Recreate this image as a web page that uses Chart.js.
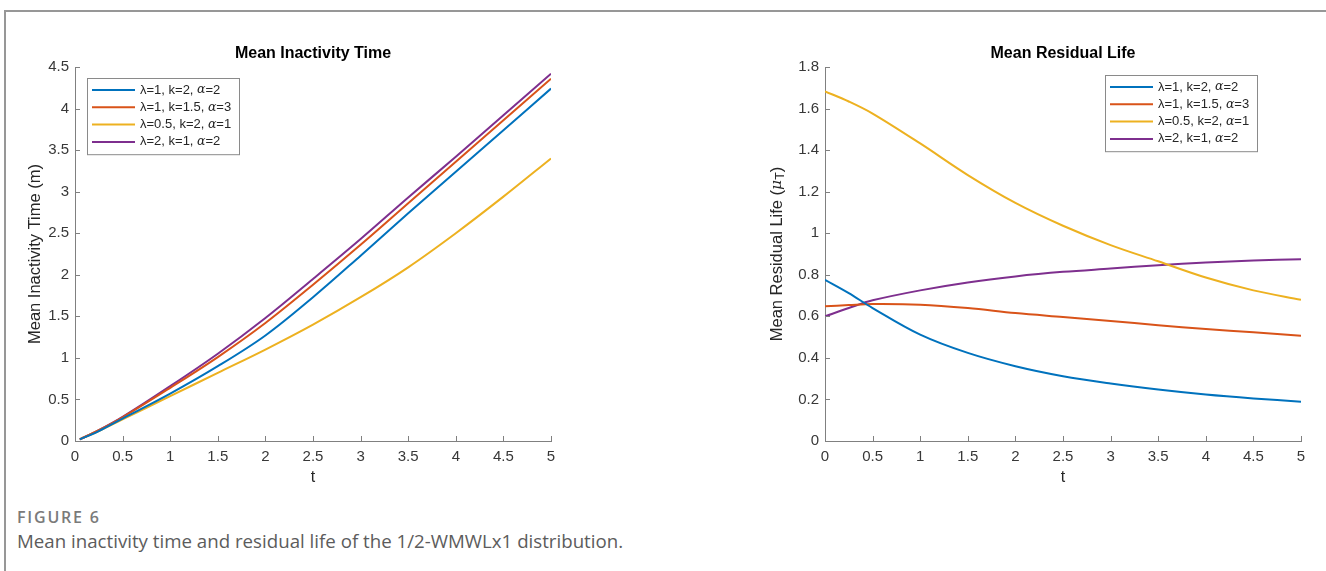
<!DOCTYPE html>
<html>
<head>
<meta charset="utf-8">
<script src="https://cdn.jsdelivr.net/npm/chart.js@4.4.1/dist/chart.umd.min.js"></script>
<style>
  body { margin: 0; background: #fff; }
  #frame { position: absolute; left: 4px; top: 10px; width: 1322px; height: 561px;
           border-top: 2px solid #979797; border-left: 2px solid #979797; }
  canvas { position: absolute; }
  #figLabel { position: absolute; left: 17px; top: 506px; font: 600 16px 'Open Sans', sans-serif;
              color: #7a7a7a; letter-spacing: 1.8px; }
  #figCaption { position: absolute; left: 17px; top: 528px; font: 18.7px 'Open Sans', sans-serif;
                color: #5c5c5c; white-space: nowrap; }
</style>
</head>
<body>
<div id="frame"></div>
<canvas id="mitChart" width="580" height="490" style="left:10px;top:15px"></canvas>
<canvas id="mrlChart" width="566" height="490" style="left:760px;top:15px"></canvas>
<div id="figLabel">FIGURE 6</div>
<div id="figCaption">Mean inactivity time and residual life of the 1/2-WMWLx1 distribution.</div>

<script>
    // series labels and colours (MATLAB default order)
    var seriesLabels = ['λ=1, k=2, α=2', 'λ=1, k=1.5, α=3', 'λ=0.5, k=2, α=1', 'λ=2, k=1, α=2'];
    var seriesColors = ['#0072BD', '#D95319', '#EDB120', '#7E2F8E'];

    // mean inactivity time
    var tMit = [0.05, 0.25, 0.5, 1, 1.5, 2, 2.5, 3, 3.5, 4, 4.5, 5];
    var mitBlue   = [0.02, 0.12, 0.27, 0.57, 0.90, 1.27, 1.73, 2.23, 2.74, 3.24, 3.74, 4.24];
    var mitRed    = [0.02, 0.13, 0.285, 0.64, 1.01, 1.42, 1.88, 2.36, 2.86, 3.36, 3.86, 4.36];
    var mitYellow = [0.02, 0.12, 0.26, 0.54, 0.82, 1.10, 1.40, 1.73, 2.09, 2.50, 2.94, 3.40];
    var mitPurple = [0.02, 0.13, 0.29, 0.66, 1.05, 1.48, 1.95, 2.43, 2.93, 3.42, 3.92, 4.42];

    // mean residual life
    var tMrl = [0, 0.25, 0.5, 1, 1.5, 2, 2.5, 3, 3.5, 4, 4.5, 5];
    var mrlBlue   = [0.776, 0.712, 0.64, 0.512, 0.424, 0.36, 0.312, 0.277, 0.248, 0.224, 0.205, 0.189];
    var mrlRed    = [0.648, 0.654, 0.659, 0.656, 0.64, 0.616, 0.597, 0.578, 0.557, 0.539, 0.523, 0.507];
    var mrlYellow = [1.683, 1.634, 1.576, 1.432, 1.28, 1.146, 1.036, 0.943, 0.865, 0.787, 0.725, 0.68];
    var mrlPurple = [0.6, 0.64, 0.677, 0.725, 0.763, 0.792, 0.814, 0.83, 0.846, 0.859, 0.869, 0.875];

    var xTicksStep = 0.5;
    var axisGray = '#808080';
    var textGray = '#383838';
    var sans = "'Liberation Sans', Arial, sans-serif";

    Chart.defaults.font.family = sans;
    Chart.defaults.color = textGray;

    function toPoints(xs, ys) {
        return xs.map(function (x, i) { return { x: x, y: ys[i] }; });
    }

    function makeDatasets(xs, seriesList) {
        return seriesList.map(function (ys, i) {
            return {
                label: seriesLabels[i],
                data: toPoints(xs, ys),
                borderColor: seriesColors[i],
                backgroundColor: seriesColors[i],
                borderWidth: 2,
                pointRadius: 0,
                tension: 0.35,
                fill: false
            };
        });
    }

    function fmt(v) { return String(+v.toFixed(2)); }

    // matlab style ticks pointing into the plot
    var inwardTicks = {
        id: 'inwardTicks',
        afterDraw: function (chart) {
            var ctx = chart.ctx, a = chart.chartArea;
            var xs = chart.scales.x, ys = chart.scales.y;
            ctx.save();
            ctx.strokeStyle = axisGray;
            ctx.lineWidth = 1;
            ctx.beginPath();
            xs.ticks.forEach(function (tk) {
                var px = Math.round(xs.getPixelForValue(tk.value)) + 0.5;
                ctx.moveTo(px, a.bottom);
                ctx.lineTo(px, a.bottom - 5);
            });
            ys.ticks.forEach(function (tk) {
                var py = Math.round(ys.getPixelForValue(tk.value)) + 0.5;
                ctx.moveTo(a.left, py);
                ctx.lineTo(a.left + 5, py);
            });
            ctx.stroke();
            ctx.restore();
        }
    };

    // y axis title drawn in pieces so mu can be italic and T a subscript
    var yLabel = {
        id: 'yLabel',
        afterDraw: function (chart, args, opts) {
            var ctx = chart.ctx, a = chart.chartArea;
            var base = '16.5px ' + sans;
            var parts = opts.parts;
            function fontOf(p) {
                if (p.sub) return '12.5px ' + sans;
                if (p.italic) return "italic 15.5px 'DejaVu Serif', serif";
                return base;
            }
            ctx.save();
            var total = 0;
            parts.forEach(function (p) {
                ctx.font = fontOf(p);
                p.w = ctx.measureText(p.t).width;
                total += p.w;
            });
            ctx.translate(opts.x, (a.top + a.bottom) / 2);
            ctx.rotate(-Math.PI / 2);
            ctx.fillStyle = '#262626';
            ctx.textBaseline = 'middle';
            var cx = -total / 2;
            parts.forEach(function (p) {
                ctx.font = fontOf(p);
                ctx.fillText(p.t, cx, p.sub ? 4 : 0);
                cx += p.w;
            });
            ctx.restore();
        }
    };

    // boxed legend inside the axes
    var boxLegend = {
        id: 'boxLegend',
        afterDatasetsDraw: function (chart, args, opts) {
            var ctx = chart.ctx, a = chart.chartArea;
            var w = 152, rowH = 17.3, h = rowH * 4 + 7;
            var left = opts.side === 'left' ? a.left + opts.dx : a.right - opts.dx - w;
            var top = a.top + opts.dy;
            ctx.save();
            ctx.fillStyle = '#fff';
            ctx.fillRect(left, top, w, h);
            ctx.strokeStyle = '#8a8a8a';
            ctx.lineWidth = 1;
            ctx.strokeRect(Math.round(left) + 0.5, Math.round(top) + 0.5, w, h);
            ctx.textBaseline = 'middle';
            chart.data.datasets.forEach(function (ds, i) {
                var y = top + 12 + i * rowH;
                ctx.strokeStyle = ds.borderColor;
                ctx.lineWidth = 2;
                ctx.beginPath();
                ctx.moveTo(left + 5, y);
                ctx.lineTo(left + 48, y);
                ctx.stroke();
                var bits = ds.label.split('α');
                var x = left + 53;
                ctx.fillStyle = '#262626';
                bits.forEach(function (b, j) {
                    if (j > 0) {
                        ctx.font = "italic 12.5px 'DejaVu Serif', serif";
                        ctx.fillText('α', x, y);
                        x += ctx.measureText('α').width;
                    }
                    ctx.font = '13px ' + sans;
                    ctx.fillText(b, x, y);
                    x += ctx.measureText(b).width;
                });
            });
            ctx.restore();
        }
    };

    function makeChart(id, title, datasets, yMax, yStep, padRight, labelParts, labelX, legendOpts) {
        var ctx = document.getElementById(id).getContext('2d');
        return new Chart(ctx, {
            type: 'line',
            data: { datasets: datasets },
            plugins: [inwardTicks, yLabel, boxLegend],
            options: {
                responsive: false,
                animation: false,
                devicePixelRatio: 1,
                layout: { padding: { left: 0, right: padRight, top: 0, bottom: 0 } },
                plugins: {
                    legend: { display: false },
                    tooltip: { enabled: false },
                    title: {
                        display: true,
                        text: title,
                        fullSize: false,
                        color: '#000',
                        font: { size: 16, weight: 'bold' },
                        padding: { top: 29, bottom: 3.8 }
                    },
                    yLabel: { parts: labelParts, x: labelX },
                    boxLegend: legendOpts
                },
                scales: {
                    x: {
                        type: 'linear',
                        min: 0,
                        max: 5,
                        afterFit: function (s) { s.height = 64; },
                        grid: { display: true, drawOnChartArea: false, drawTicks: false, color: 'rgba(0,0,0,0)' },
                        border: { display: true, color: axisGray, width: 1 },
                        ticks: { stepSize: xTicksStep, padding: 7, font: { size: 15 }, color: textGray,
                                 maxRotation: 0, callback: fmt },
                        title: { display: true, text: 't', color: '#262626', font: { size: 16 },
                                 padding: { top: 0, bottom: 17.5 } }
                    },
                    y: {
                        type: 'linear',
                        min: 0,
                        max: yMax,
                        afterFit: function (s) { s.width = 65; },
                        grid: { display: true, drawOnChartArea: false, drawTicks: false, color: 'rgba(0,0,0,0)' },
                        border: { display: true, color: axisGray, width: 1 },
                        ticks: { stepSize: yStep, padding: 6, font: { size: 15 }, color: textGray, callback: fmt }
                    }
                }
            }
        });
    }

    makeChart('mitChart', 'Mean Inactivity Time',
        makeDatasets(tMit, [mitBlue, mitRed, mitYellow, mitPurple]),
        4.5, 0.5, 39,
        [{ t: 'Mean Inactivity Time (m)' }], 25,
        { side: 'left', dx: 12, dy: 11 });

    makeChart('mrlChart', 'Mean Residual Life',
        makeDatasets(tMrl, [mrlBlue, mrlRed, mrlYellow, mrlPurple]),
        1.8, 0.2, 25,
        [{ t: 'Mean Residual Life (' }, { t: 'μ', italic: true }, { t: 'T', sub: true }, { t: ')' }], 17,
        { side: 'right', dx: 44, dy: 8 });
</script>
</body>
</html>
